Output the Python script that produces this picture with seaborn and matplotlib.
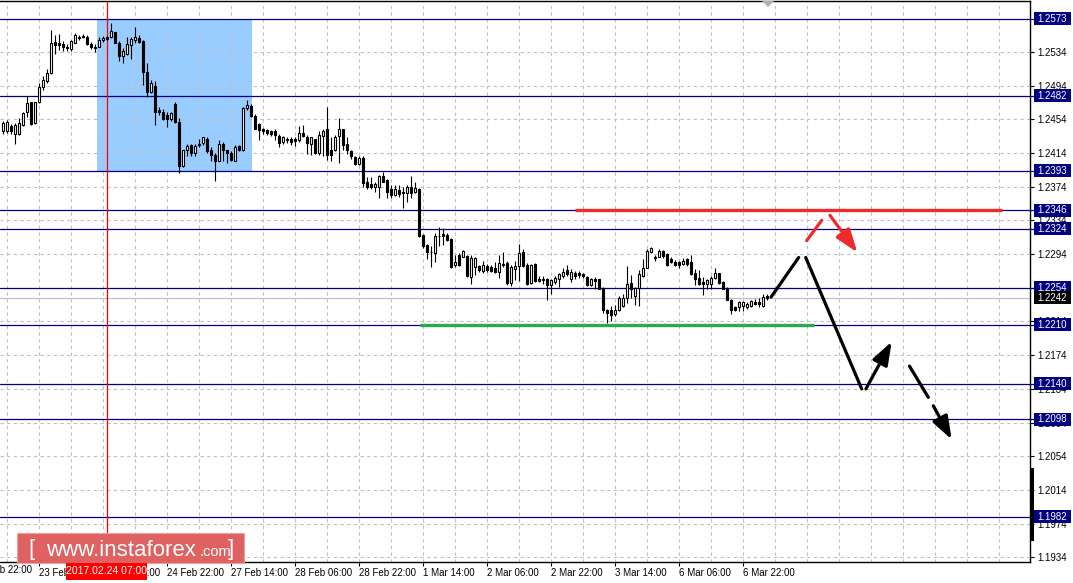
import matplotlib
matplotlib.use("Agg")
import matplotlib.pyplot as plt
import matplotlib.transforms as mtransforms
from matplotlib.patches import Rectangle, Polygon
import numpy as np
import pandas as pd
import seaborn as sns

# ---------------- data (H1 EUR/USD, bar 0 = 23 Feb 05:00) ----------------
opens = [1.2440,1.2440,1.2446,1.2437,1.2437,1.2447,1.2462,1.2474,1.2450,1.2475,
         1.2492,1.2499,1.2509,1.2546,1.2545,1.2543,1.2540,1.2537,1.2545,1.2550,
         1.2553,1.2551,1.2543,1.2540,1.2540,1.2548,1.2551,1.2552,1.2557,1.2545,
         1.2529,1.2531,1.2542,1.2548,1.2550,1.2547,1.2510,1.2486,1.2494,1.2465,
         1.2463,1.2459,1.2454,1.2472,1.2451,1.2398,1.2417,1.2423,1.2414,1.2423,
         1.2426,1.2431,1.2418,1.2412,1.2405,1.2425,1.2417,1.2414,1.2405,1.2422,
         1.2418,1.2467,1.2470,1.2458,1.2448,1.2442,1.2441,1.2440,1.2440,1.2434,
         1.2427,1.2431,1.2430,1.2430,1.2429,1.2438,1.2433,1.2425,1.2430,1.2414,
         1.2434,1.2443,1.2418,1.2417,1.2434,1.2442,1.2425,1.2416,1.2409,1.2401,
         1.2408,1.2380,1.2377,1.2373,1.2373,1.2387,1.2382,1.2371,1.2364,1.2370,
         1.2368,1.2367,1.2374,1.2368,1.2371,1.2317,1.2305,1.2297,1.2295,1.2316,
         1.2318,1.2317,1.2312,1.2281,1.2293,1.2291,1.2292,1.2267,1.2279,1.2280,
         1.2274,1.2280,1.2279,1.2277,1.2273,1.2281,1.2283,1.2260,1.2276,1.2280,
         1.2297,1.2281,1.2260,1.2282,1.2265,1.2265,1.2265,1.2257,1.2261,1.2265,
         1.2268,1.2275,1.2264,1.2271,1.2271,1.2270,1.2267,1.2257,1.2265,1.2264,
         1.2254,1.2228,1.2228,1.2223,1.2228,1.2232,1.2242,1.2260,1.2244,1.2254,
         1.2268,1.2278,1.2296,1.2290,1.2291,1.2298,1.2294,1.2288,1.2285,1.2284,
         1.2282,1.2288,1.2284,1.2272,1.2266,1.2261,1.2258,1.2258,1.2266,1.2271,
         1.2261,1.2254,1.2239,1.2231,1.2231,1.2232,1.2231,1.2232,1.2237,1.2237,
         1.2232,1.2244]
highs = [1.2452,1.2453,1.2448,1.2449,1.2455,1.2463,1.2481,1.2475,1.2475,1.2497,
         1.2505,1.2514,1.2560,1.2554,1.2555,1.2547,1.2543,1.2548,1.2556,1.2554,
         1.2555,1.2554,1.2546,1.2543,1.2551,1.2553,1.2553,1.2568,1.2558,1.2547,
         1.2538,1.2551,1.2552,1.2563,1.2554,1.2548,1.2521,1.2501,1.2499,1.2468,
         1.2466,1.2463,1.2463,1.2474,1.2455,1.2418,1.2425,1.2425,1.2425,1.2430,
         1.2433,1.2433,1.2421,1.2414,1.2429,1.2427,1.2418,1.2416,1.2423,1.2423,
         1.2469,1.2477,1.2472,1.2460,1.2449,1.2444,1.2443,1.2441,1.2442,1.2436,
         1.2434,1.2433,1.2433,1.2433,1.2446,1.2447,1.2435,1.2433,1.2431,1.2440,
         1.2442,1.2469,1.2433,1.2435,1.2455,1.2443,1.2433,1.2418,1.2410,1.2410,
         1.2410,1.2385,1.2385,1.2379,1.2388,1.2391,1.2383,1.2376,1.2376,1.2376,
         1.2374,1.2376,1.2387,1.2379,1.2372,1.2318,1.2306,1.2304,1.2319,1.2326,
         1.2325,1.2319,1.2313,1.2293,1.2295,1.2299,1.2293,1.2293,1.2290,1.2281,
         1.2286,1.2282,1.2281,1.2285,1.2293,1.2296,1.2286,1.2281,1.2286,1.2306,
         1.2300,1.2283,1.2282,1.2283,1.2268,1.2268,1.2266,1.2265,1.2268,1.2272,
         1.2278,1.2281,1.2276,1.2274,1.2274,1.2272,1.2268,1.2266,1.2267,1.2265,
         1.2255,1.2229,1.2232,1.2233,1.2244,1.2247,1.2280,1.2269,1.2255,1.2275,
         1.2288,1.2300,1.2302,1.2293,1.2300,1.2299,1.2295,1.2290,1.2287,1.2286,
         1.2289,1.2289,1.2293,1.2276,1.2275,1.2267,1.2265,1.2268,1.2277,1.2272,
         1.2262,1.2255,1.2241,1.2232,1.2238,1.2238,1.2237,1.2240,1.2241,1.2242,
         1.2247,1.2247]
lows = [1.2437,1.2438,1.2437,1.2425,1.2435,1.2446,1.2457,1.2447,1.2448,1.2473,
        1.2489,1.2497,1.2508,1.2532,1.2536,1.2535,1.2535,1.2535,1.2544,1.2548,
        1.2550,1.2542,1.2537,1.2534,1.2540,1.2546,1.2548,1.2550,1.2544,1.2523,
        1.2521,1.2530,1.2526,1.2545,1.2544,1.2495,1.2480,1.2485,1.2447,1.2459,
        1.2453,1.2445,1.2452,1.2450,1.2390,1.2397,1.2410,1.2410,1.2410,1.2421,
        1.2423,1.2414,1.2405,1.2381,1.2404,1.2404,1.2402,1.2404,1.2404,1.2416,
        1.2416,1.2465,1.2457,1.2442,1.2429,1.2437,1.2435,1.2434,1.2429,1.2421,
        1.2425,1.2426,1.2423,1.2422,1.2427,1.2433,1.2413,1.2412,1.2413,1.2412,
        1.2410,1.2406,1.2404,1.2416,1.2402,1.2418,1.2413,1.2407,1.2400,1.2400,
        1.2374,1.2371,1.2371,1.2368,1.2361,1.2379,1.2361,1.2361,1.2363,1.2362,
        1.2349,1.2356,1.2361,1.2367,1.2314,1.2301,1.2288,1.2279,1.2285,1.2304,
        1.2305,1.2310,1.2278,1.2279,1.2280,1.2290,1.2267,1.2259,1.2269,1.2273,
        1.2272,1.2273,1.2273,1.2272,1.2266,1.2279,1.2257,1.2256,1.2263,1.2262,
        1.2279,1.2257,1.2258,1.2261,1.2261,1.2259,1.2240,1.2247,1.2258,1.2255,
        1.2266,1.2268,1.2261,1.2265,1.2266,1.2266,1.2256,1.2256,1.2253,1.2252,
        1.2224,1.2212,1.2214,1.2220,1.2226,1.2231,1.2236,1.2242,1.2233,1.2232,
        1.2267,1.2277,1.2295,1.2286,1.2290,1.2289,1.2280,1.2283,1.2280,1.2278,
        1.2281,1.2280,1.2269,1.2257,1.2257,1.2246,1.2253,1.2253,1.2264,1.2259,
        1.2252,1.2239,1.2223,1.2226,1.2227,1.2226,1.2229,1.2231,1.2233,1.2231,
        1.2231,1.2240]
closes = [1.2449,1.2451,1.2440,1.2447,1.2449,1.2461,1.2473,1.2448,1.2474,1.2492,
          1.2501,1.2509,1.2545,1.2542,1.2542,1.2540,1.2538,1.2547,1.2554,1.2552,
          1.2551,1.2543,1.2540,1.2538,1.2548,1.2550,1.2549,1.2559,1.2545,1.2529,
          1.2535,1.2543,1.2549,1.2551,1.2546,1.2510,1.2486,1.2497,1.2463,1.2462,
          1.2454,1.2454,1.2461,1.2451,1.2398,1.2418,1.2422,1.2414,1.2422,1.2425,
          1.2433,1.2416,1.2412,1.2405,1.2425,1.2417,1.2414,1.2406,1.2421,1.2418,
          1.2467,1.2471,1.2458,1.2443,1.2441,1.2440,1.2438,1.2437,1.2435,1.2426,
          1.2433,1.2429,1.2427,1.2428,1.2438,1.2434,1.2426,1.2433,1.2414,1.2435,
          1.2440,1.2412,1.2412,1.2433,1.2443,1.2423,1.2417,1.2410,1.2401,1.2408,
          1.2378,1.2374,1.2374,1.2377,1.2387,1.2380,1.2368,1.2364,1.2371,1.2365,
          1.2367,1.2373,1.2367,1.2372,1.2315,1.2304,1.2297,1.2296,1.2316,1.2315,
          1.2316,1.2311,1.2279,1.2284,1.2281,1.2298,1.2268,1.2289,1.2289,1.2275,
          1.2281,1.2275,1.2274,1.2273,1.2283,1.2282,1.2260,1.2279,1.2280,1.2295,
          1.2280,1.2259,1.2281,1.2262,1.2262,1.2263,1.2257,1.2263,1.2266,1.2270,
          1.2273,1.2270,1.2273,1.2268,1.2269,1.2268,1.2257,1.2265,1.2262,1.2253,
          1.2228,1.2224,1.2222,1.2228,1.2242,1.2242,1.2259,1.2252,1.2254,1.2270,
          1.2278,1.2298,1.2301,1.2289,1.2298,1.2292,1.2281,1.2284,1.2281,1.2281,
          1.2286,1.2282,1.2270,1.2264,1.2258,1.2258,1.2263,1.2266,1.2271,1.2260,
          1.2253,1.2240,1.2228,1.2228,1.2237,1.2237,1.2235,1.2238,1.2235,1.2235,
          1.2243,1.2242]

level_prices = [1.2573, 1.2482, 1.2393, 1.2346, 1.2324, 1.2254, 1.2210, 1.2140, 1.2098, 1.1982]
current_price = 1.2242
y_tick_values = [1.2534, 1.2494, 1.2454, 1.2414, 1.2374, 1.2334, 1.2294, 1.2254,
                 1.2214, 1.2174, 1.2134, 1.2094, 1.2054, 1.2014, 1.1974, 1.1934]
x_tick_bars = [-7, 9, 25, 41, 57, 73, 89, 105, 121, 137, 153, 169, 185]
x_tick_labels = ["22 Feb 22:00", "23 Feb 14:00", "24 Feb 06:00", "24 Feb 22:00",
                 "27 Feb 14:00", "28 Feb 06:00", "28 Feb 22:00", "1 Mar 14:00",
                 "2 Mar 06:00", "2 Mar 22:00", "3 Mar 14:00", "6 Mar 06:00",
                 "6 Mar 22:00"]
marker_bar = 26
marker_label = "2017.02.24 07:00"
zone_bars = [23.6, 62.3]
zone_prices = [1.2393, 1.2573]
resist_bars = [143.1, 249.8]
resist_price = 1.2346
support_bars = [104.3, 202.8]
support_price = 1.2210
# forecast paths (bar index, price)
fc_up_x = [192.1, 199.0];     fc_up_y = [1.2243, 1.2290]
fc_down_x = [200.75, 214.75]; fc_down_y = [1.2290, 1.2134]
fc_bounce_x = [215.8, 222.25]; fc_bounce_y = [1.2134, 1.2190]
fc_dash1_x = [226.7, 231.4];  fc_dash1_y = [1.2161, 1.2124]
fc_dash2_x = [232.65, 237.25]; fc_dash2_y = [1.2114, 1.2074]
alt_seg_x = [201.0, 204.75];  alt_seg_y = [1.2310, 1.2334]
alt_arrow_x = [206.8, 213.65]; alt_arrow_y = [1.2340, 1.2296]

# ---------------- style ----------------
sns.set_theme(style="white")
plt.rcParams['font.family'] = ['Liberation Sans', 'DejaVu Sans']
NAVY = '#000080'
GRID = '#c0c0c0'

W, H = 1073, 583
fig = plt.figure(figsize=(W / 100, H / 100), dpi=100)
fig.patch.set_facecolor('white')
ax = fig.add_axes([0, 21 / H, 1030 / W, 561 / H])
ax.set_facecolor('white')

df = pd.DataFrame({'bar': np.arange(len(opens)), 'open': opens, 'high': highs,
                   'low': lows, 'close': closes})
df['up'] = df['close'] >= df['open']
df['body_lo'] = df[['open', 'close']].min(axis=1)
df['body_h'] = (df['close'] - df['open']).abs().clip(lower=0.00005)

ax.set_xlim(-0.675, 256.825)
ax.set_ylim(1.19286, 1.25943)
# price per pixel (for label box heights)
ppx = (1.25943 - 1.19286) / 561

# zone rectangle
ax.add_patch(Rectangle((zone_bars[0], zone_prices[0]), zone_bars[1] - zone_bars[0],
                       zone_prices[1] - zone_prices[0], facecolor='#99ccff',
                       edgecolor='none', zorder=0))

# grid
ax.set_yticks(y_tick_values)
ax.set_yticklabels([f"{v:.4f}" for v in y_tick_values])
grid_bars = np.arange(1, 257, 8)
ax.set_xticks(x_tick_bars[1:])
ax.set_xticklabels(x_tick_labels[1:])
ax.set_xticks([g for g in grid_bars if g not in x_tick_bars], minor=True)
ax.grid(True, which='both', axis='both', color=GRID, linestyle=(0, (3, 3)), linewidth=0.8, zorder=1)
ax.set_axisbelow(True)

# level lines
for lv in level_prices:
    ax.axhline(lv, color=NAVY, lw=0.9, zorder=2)
ax.axhline(current_price, color=GRID, lw=0.9, zorder=2)
ax.axvline(marker_bar, color='red', lw=0.9, zorder=2)

# candles
ax.vlines(df['bar'], df['low'], df['high'], color='black', lw=0.8, zorder=3)
ax.bar(df['bar'], df['body_h'], bottom=df['body_lo'], width=0.55,
       color=np.where(df['up'], 'white', 'black'), edgecolor='black', linewidth=0.8, zorder=4)

# support / resistance
ax.plot(resist_bars, [resist_price] * 2, color='#ee2a2a', lw=2.4, solid_capstyle='butt', zorder=5)
ax.plot(support_bars, [support_price] * 2, color='#2ea84f', lw=2.4, solid_capstyle='butt', zorder=5)

# forecast lines
for xs, ys in [(fc_up_x, fc_up_y), (fc_down_x, fc_down_y), (fc_dash1_x, fc_dash1_y)]:
    sns.lineplot(x=xs, y=ys, ax=ax, color='black', lw=2.3, sort=False, zorder=6)
sns.lineplot(x=alt_seg_x, y=alt_seg_y, ax=ax, color='#ee2a2a', lw=2.3, sort=False, zorder=6)

def arrow(xs, ys, color):
    ax.annotate('', xy=(xs[1], ys[1]), xytext=(xs[0], ys[0]),
                arrowprops=dict(arrowstyle='-|>,head_length=1.4,head_width=0.5',
                                color=color, lw=2.3, shrinkA=0, shrinkB=0,
                                mutation_scale=10), zorder=6)

arrow(fc_bounce_x, fc_bounce_y, 'black')
arrow(fc_dash2_x, fc_dash2_y, 'black')
arrow(alt_arrow_x, alt_arrow_y, '#ee2a2a')

# axes look
ax.yaxis.tick_right()
ax.tick_params(axis='y', which='major', direction='out', length=3, width=0.8,
               color='black', labelsize=7, labelcolor='black', pad=2.5, right=True, left=False)
ax.tick_params(axis='x', which='major', direction='out', length=3, width=0.8,
               color='black', labelsize=7, labelcolor='black', pad=1.5, bottom=True)
ax.tick_params(axis='x', which='minor', length=0)
for lab in ax.get_xticklabels():
    lab.set_horizontalalignment('left')
for s in ['top', 'right', 'bottom']:
    ax.spines[s].set_visible(True)
    ax.spines[s].set_color('black')
    ax.spines[s].set_linewidth(1.0)
ax.spines['left'].set_visible(False)

# first (clipped) x label
xt = mtransforms.blended_transform_factory(ax.transData, ax.transAxes)
ax.text(x_tick_bars[0], -0.005, x_tick_labels[0], transform=xt, ha='left', va='top',
        fontsize=7, color='black', clip_on=False)

# level price boxes on the price scale
yt = mtransforms.blended_transform_factory(ax.transAxes, ax.transData)
box_x0 = 1.0 + 4 / 1030
box_w = 37 / 1030
box_h = 13 * ppx
def price_box(lv, fc):
    ax.add_patch(Rectangle((box_x0, lv - box_h / 2), box_w, box_h, transform=yt,
                           facecolor=fc, edgecolor='none', clip_on=False, zorder=10))
    ax.text(box_x0 + box_w / 2, lv, f"{lv:.4f}", transform=yt, ha='center', va='center',
            fontsize=7, color='white', zorder=11, clip_on=False)

for lv in level_prices:
    ax.plot([1.0, box_x0], [lv, lv], transform=yt, color=NAVY, lw=0.9, clip_on=False, zorder=9)
    price_box(lv, NAVY)
price_box(current_price, 'black')

def fx(px):
    return px / W

def fy(py):
    return 1 - py / H

# scroll marker on price scale
fig.patches.append(Rectangle((fx(1031), fy(541)), 3 / W, 73 / H, transform=fig.transFigure,
                             facecolor='black', edgecolor='none', zorder=20))
# shift marker at top
fig.patches.append(Polygon([(fx(762), fy(1)), (fx(774), fy(1)), (fx(768), fy(7))],
                           closed=True, transform=fig.transFigure, facecolor='#b0b0b0',
                           edgecolor='none', zorder=20))

# date marker box
fig.patches.append(Rectangle((fx(66), fy(580)), 81 / W, 17 / H, transform=fig.transFigure,
                             facecolor='#ff0000', edgecolor='none', zorder=20))
fig.text(fx(106.5), fy(571.5), marker_label, ha='center', va='center', fontsize=7.5,
         color='white', zorder=21)

# watermark
fig.patches.append(Rectangle((fx(17), fy(563)), 227 / W, 30 / H, transform=fig.transFigure,
                             facecolor='#de6262', edgecolor='#eea0a0', lw=0.8, zorder=19))
fig.text(fx(28), fy(549), "[", fontsize=16, color='white', ha='left', va='center', zorder=22)
fig.text(fx(46), fy(550), "www.instaforex", fontsize=16, color='white', ha='left',
         va='center', zorder=22)
fig.text(fx(200), fy(552), ".com", fontsize=10.5, color='white', ha='left', va='center', zorder=22)
fig.text(fx(228), fy(549), "]", fontsize=16, color='white', ha='left', va='center', zorder=22)

fig.savefig("out.png", dpi=100)
